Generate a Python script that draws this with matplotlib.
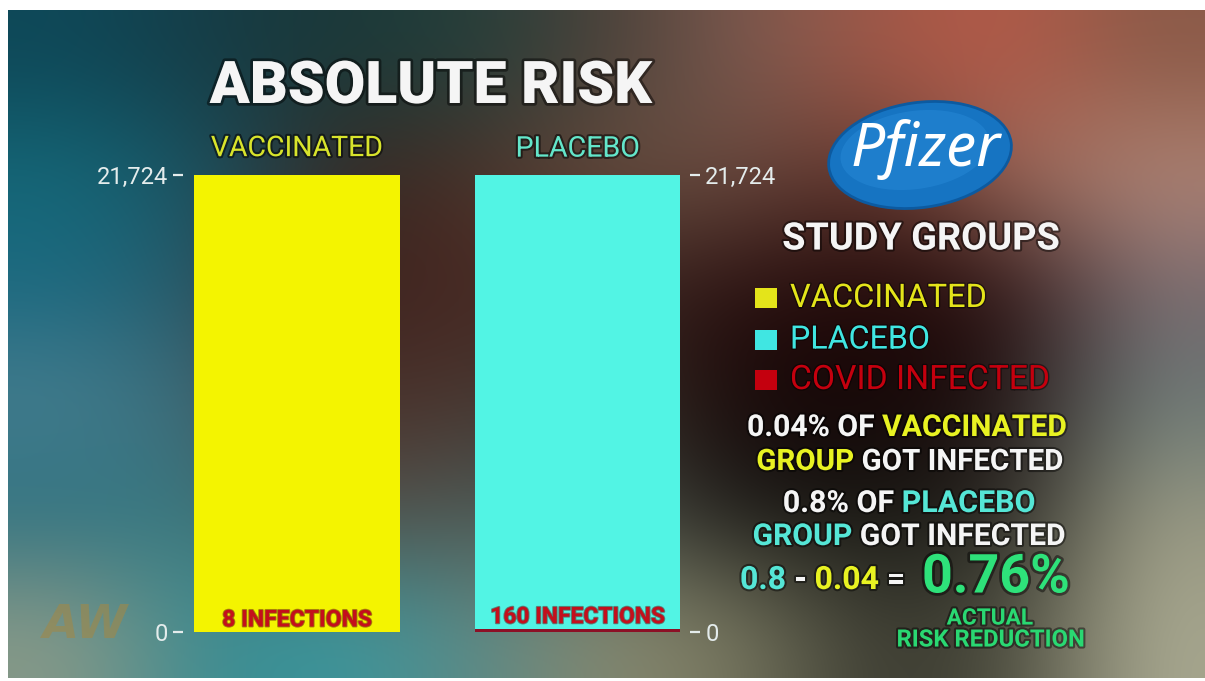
import numpy as np
import matplotlib
matplotlib.use('Agg')
import matplotlib.pyplot as plt
from matplotlib.patches import Ellipse, Rectangle
from matplotlib.colors import to_rgb
import matplotlib.patheffects as pe

# ---------------- data ----------------
groups = ['VACCINATED', 'PLACEBO']
group_size = [21724, 21724]
infections = [8, 160]
tick_values = [0, 21724]
tick_labels = ['0', '21,724']
legend_labels = ['VACCINATED', 'PLACEBO', 'COVID INFECTED']
vacc_pct_text = '0.04%'
plac_pct_text = '0.8%'
reduction_text = '0.76%'

bar_colors = ['#f4f400', '#52f4e4']
label_colors = ['#d8e42c', '#64e6ca']
infected_color = '#8c1026'
legend_colors = ['#e4e41a', '#40e6e2', '#c4000e']
WHITE = '#f5f5f5'
YEL = '#e8f222'
CYA = '#55e6d6'
GRN = '#2ee27a'

W, H = 1205, 681
fig = plt.figure(figsize=(W / 100, H / 100), dpi=100)
fig.patch.set_facecolor('white')

# background axes in pixel units
bg = fig.add_axes([0, 0, 1, 1])
bg.set_xlim(0, W)
bg.set_ylim(H, 0)
bg.axis('off')

bg_grid = [
    ['#0e4858', '#163c46', '#1a3838', '#24403c', '#4a4038', '#7a5a50', '#a05848', '#b85a48', '#8a5a48'],
    ['#156a7a', '#1a5262', '#3a2a22', '#4a3028', '#6a5040', '#6a4a40', '#5a3028', '#9a6a5c', '#b48878'],
    ['#1a6880', '#2a5a68', '#3a1c18', '#4a2a24', '#3a2420', '#2a1010', '#200808', '#2a1010', '#7a6a70'],
    ['#4a8090', '#3a6a78', '#4a2a22', '#4a3a34', '#3a3028', '#180808', '#140606', '#201010', '#6a7a78'],
    ['#2a7080', '#3a7a80', '#5a4a40', '#4a5a58', '#4a5048', '#181816', '#141410', '#242420', '#9a9a84'],
    ['#8a9a88', '#3a8a90', '#3a9aa0', '#5a8a88', '#8a8a70', '#7a7a62', '#3a3a30', '#4a4a3c', '#a8a890'],
]
bg_img = np.array([[to_rgb(c) for c in row] for row in bg_grid])
bg.imshow(bg_img, extent=(8, W, 678, 10), origin='upper', interpolation='bicubic',
          aspect='auto', zorder=0)
bg.set_xlim(0, W)
bg.set_ylim(H, 0)

renderer = fig.canvas.get_renderer()


def width_of(t):
    return t.get_window_extent(renderer).width


def fit(t, target):
    w = width_of(t)
    t.set_fontsize(t.get_fontsize() * target / w)
    return t


def shadow(lw=3, alpha=0.45):
    return [pe.Stroke(linewidth=lw, foreground='black', alpha=alpha), pe.Normal()]


def line(pieces, x, y, target_w, weight='bold', ha='center', family='Roboto', size=20, lw=3):
    full = ''.join(p for p, _ in pieces)
    probe = bg.text(0, y, full, fontsize=size, fontweight=weight, family=family)
    w = width_of(probe)
    size = size * target_w / w
    probe.set_fontsize(size)
    w = width_of(probe)
    probe.remove()
    x0 = x - w / 2 if ha == 'center' else x
    marker = bg.text(0, y, 'I', fontsize=size, fontweight=weight, family=family)
    mw = width_of(marker)
    marker.remove()
    prefix = ''
    for txt, col in pieces:
        if prefix:
            m = bg.text(0, y, prefix + 'I', fontsize=size, fontweight=weight, family=family)
            off = width_of(m) - mw
            m.remove()
        else:
            off = 0
        bg.text(x0 + off, y, txt, fontsize=size, fontweight=weight, family=family,
                color=col, ha='left', va='center', path_effects=shadow(lw), zorder=5)
        prefix += txt
    return size


# title
line([('ABSOLUTE RISK', WHITE)], 431, 87, 442, weight='heavy', lw=4)

# ---------------- bar chart ----------------
ax = fig.add_axes([183 / W, 1 - 632 / H, (690 - 183) / W, 457 / H])
ax.patch.set_alpha(0)
xpos = np.arange(len(groups))
ax.bar(xpos, group_size, width=0.734, color=bar_colors, zorder=2)
ax.bar(xpos, infections, width=0.734, color=infected_color, zorder=3)
ax.set_xlim(-0.4064, 1.4011)
ax.set_ylim(0, max(group_size))
ax.set_yticks(tick_values, tick_labels)
ax.set_xticks([])
for s in ax.spines.values():
    s.set_visible(False)
ax.tick_params(axis='y', left=True, right=True, labelleft=True, labelright=True,
               length=7, width=1.6, color='#e4ecec', labelcolor='#e4ecec',
               labelsize=17, pad=4)
for lab in ax.get_yticklabels():
    lab.set_family('Roboto')

label_widths = [172, 124]
inf_widths = [150, 175]
for i, g in enumerate(groups):
    t = ax.annotate(g, (xpos[i], group_size[i]), xytext=(0, 19), textcoords='offset points',
                    ha='center', va='center', color=label_colors[i], family='Roboto',
                    fontsize=18, path_effects=shadow(3, 0.5))
    fit(t, label_widths[i])
    t2 = ax.annotate(f'{infections[i]} INFECTIONS', (xpos[i], infections[i]), xytext=(0, 8.6),
                     textcoords='offset points', ha='center', va='center',
                     color='#c40f1c', family='Roboto', fontweight='bold', fontsize=15,
                     path_effects=[pe.Stroke(linewidth=1.5, foreground='#601010', alpha=0.5),
                                   pe.Normal()])
    fit(t2, inf_widths[i])

# ---------------- right panel ----------------
logo = Ellipse((920, 155), 184, 105, angle=-8, facecolor='#1674c2', edgecolor='#0c5aa0',
               linewidth=2, zorder=3)
bg.add_patch(logo)
bg.add_patch(Ellipse((915, 150), 150, 78, angle=-8, facecolor='#2486d4', edgecolor='none',
                     alpha=0.6, zorder=3))
pt = bg.text(926, 150, 'Pfizer', color='white', fontsize=38, style='italic', fontweight='bold',
             family='Noto Sans', ha='center', va='center', zorder=4)
fit(pt, 150)

line([('STUDY GROUPS', WHITE)], 921, 239, 277, weight='bold')

leg_y = [298, 340, 380]
leg_w = [197, 140, 260]
for lbl, col, yy, ww in zip(legend_labels, legend_colors, leg_y, leg_w):
    bg.add_patch(Rectangle((755, yy - 10), 22, 20, facecolor=col, edgecolor='none', zorder=4))
    line([(lbl, col)], 790, yy, ww, weight='normal', ha='left', lw=2)

line([(f'{vacc_pct_text} OF ', WHITE), ('VACCINATED', YEL)], 907, 428, 319)
line([('GROUP ', YEL), ('GOT INFECTED', WHITE)], 910, 462, 306)
line([(f'{plac_pct_text} OF ', WHITE), ('PLACEBO', CYA)], 909, 504, 252)
line([('GROUP ', CYA), ('GOT INFECTED', WHITE)], 909, 537, 312)
line([('0.8', CYA), (' - ', WHITE), ('0.04', YEL), (' =', WHITE)], 740, 580, 165, ha='left')
line([(reduction_text, GRN)], 922, 578, 148, ha='left', lw=4)
line([('ACTUAL', '#2ad872')], 990, 618, 86)
line([('RISK REDUCTION', '#2ad872')], 991, 640, 188)

# watermark
wm = bg.text(85, 625, 'AW', color='#a08848', alpha=0.6, fontsize=34, style='italic',
             fontweight='heavy', family='DejaVu Sans', ha='center', va='center', zorder=2)
fit(wm, 85)

fig.savefig('out.png', dpi=100, facecolor='white')
